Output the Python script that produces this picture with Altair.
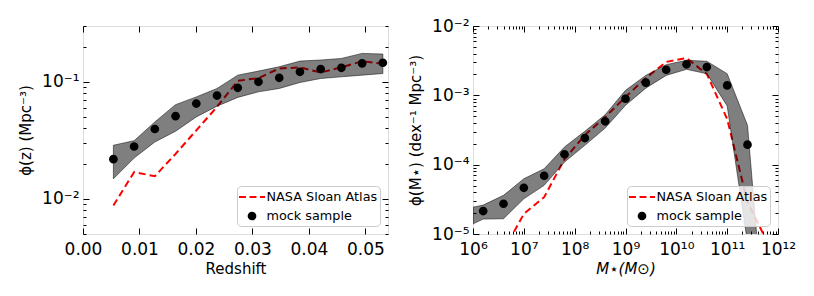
import altair as alt
import pandas as pd

# ---------------- Left panel: redshift distribution ----------------
z_mock = [0.00538, 0.00905, 0.01272, 0.01639, 0.02006, 0.02373, 0.02740,
          0.03107, 0.03474, 0.03841, 0.04208, 0.04575, 0.04942, 0.05309]
phi_z_mock = [0.0218, 0.0280, 0.0395, 0.0508, 0.0652, 0.0763, 0.0888,
              0.1000, 0.1082, 0.1218, 0.1285, 0.1318, 0.1437, 0.1455]
phi_z_hi = [0.0287, 0.0314, 0.0454, 0.0638, 0.0743, 0.0877, 0.1140,
            0.1235, 0.1345, 0.1504, 0.1535, 0.1584, 0.1750, 0.1727]
phi_z_lo = [0.0148, 0.0223, 0.0306, 0.0378, 0.0501, 0.0619, 0.0736,
            0.0821, 0.0877, 0.0987, 0.1067, 0.1104, 0.1140, 0.1178]
phi_z_nsa = [0.00877, 0.0169, 0.0156, 0.0242, 0.0385, 0.0611, 0.1020,
             0.1076, 0.1300, 0.1327, 0.1202, 0.1331, 0.1500, 0.1426]

# ---------------- Right panel: stellar mass function ----------------
logm_mock = [6.2, 6.6, 7.0, 7.4, 7.8, 8.2, 8.6, 9.0, 9.4, 9.8, 10.2, 10.6, 11.0, 11.4]
phi_m_mock = [2.14e-5, 2.73e-5, 4.64e-5, 6.92e-5, 1.41e-4, 2.42e-4, 4.22e-4,
              8.93e-4, 1.52e-3, 2.34e-3, 2.80e-3, 2.56e-3, 1.39e-3, 1.94e-4]
logm_band = [6.0, 6.2, 6.6, 7.0, 7.4, 7.8, 8.2, 8.6, 9.0, 9.4, 9.8, 10.2, 10.6, 11.0, 11.4, 11.8]
phi_m_hi = [2.44e-5, 2.61e-5, 3.61e-5, 6.26e-5, 8.73e-5, 1.80e-4, 3.03e-4, 5.25e-4,
            1.18e-3, 1.94e-3, 2.77e-3, 3.20e-3, 3.10e-3, 2.05e-3, 3.69e-4, 1.2e-7]
phi_m_lo = [1.40e-5, 1.64e-5, 1.66e-5, 3.22e-5, 5.03e-5, 1.09e-4, 1.90e-4, 3.37e-4,
            7.18e-4, 1.27e-3, 1.94e-3, 2.37e-3, 2.05e-3, 7.02e-4, 7.5e-6, 1.0e-8]
logm_nsa = [6.6, 7.0, 7.4, 7.8, 8.2, 8.6, 9.0, 9.4, 9.8, 10.2, 10.6, 11.0, 11.4, 11.8]
phi_m_nsa = [5.7e-6, 1.95e-5, 3.40e-5, 1.20e-4, 2.67e-4, 4.86e-4, 9.44e-4,
             1.78e-3, 3.03e-3, 3.45e-3, 2.03e-3, 4.55e-4, 2.88e-5, 7.4e-6]

series_labels = ["NASA Sloan Atlas", "mock sample"]

# ---------------- styling helpers ----------------
W, H = 305, 208
FONT = "DejaVu Sans"

SUP = "['⁰','¹','²','³','⁴','⁵','⁶','⁷','⁸','⁹','¹⁰','¹¹','¹²']"
EXP = "round(log(datum.value)/LN10)"
LOG_LABEL = f"'10' + ({EXP} < 0 ? '⁻' : '') + {SUP}[abs({EXP})]"
IS_MAJOR = f"abs(log(datum.value)/LN10 - {EXP}) < 0.001"
TICK_SIZE = {"condition": {"test": IS_MAJOR, "value": 6}, "value": 3}

DASH_PATH = ("M-1.53,-0.12L-0.71,-0.12L-0.71,0.12L-1.53,0.12Z "
             "M-0.29,-0.12L0.53,-0.12L0.53,0.12L-0.29,0.12Z "
             "M0.94,-0.12L1.53,-0.12L1.53,0.12L0.94,0.12Z")
CIRCLE_PATH = "M0.512,0A0.512,0.512,0,1,1,-0.512,0A0.512,0.512,0,1,1,0.512,0Z"
SYM_SIZE = 289


def log_ticks(lo_exp, hi_exp):
    return [k * 10.0 ** n for n in range(lo_exp, hi_exp) for k in range(1, 10)] + [10.0 ** hi_exp]


def main_axis(values, title, label_expr=None, fmt=None, is_x=True, title_style="normal"):
    kw = dict(values=values, ticks=False, tickSize=0, domain=False, grid=False,
              labelFlush=False, labelOverlap=False,
              title=title, labelFont=FONT, labelFontSize=17, labelColor="black",
              titleFont=FONT, titleFontSize=15, titleFontWeight="normal",
              titleColor="black", titleFontStyle=title_style)
    if label_expr:
        kw["labelExpr"] = label_expr
    if fmt:
        kw["format"] = fmt
    if is_x:
        kw.update(labelPadding=7, titleY=27)
    else:
        kw.update(labelPadding=4, titleX=-50)
    return alt.Axis(**kw)


def tick_axis(values, orient, offset, size):
    return alt.Axis(values=values, orient=orient, offset=offset, labels=False,
                    domain=False, grid=False, ticks=True, tickColor="black",
                    tickWidth=1, tickSize=size, title=None, zindex=1)


def legend():
    return alt.Legend(title=None, orient="bottom-right", offset=8,
                      labelFont=FONT, labelFontSize=12.8, labelColor="black",
                      symbolSize=SYM_SIZE, symbolStrokeWidth=0, symbolOpacity=1,
                      padding=2.5, rowPadding=3, labelOffset=6, symbolOffset=4,
                      strokeColor="#cccccc", fillColor="rgba(255,255,255,0.8)",
                      cornerRadius=4)


def panel(pts, band, nsa, xf, xs, ys, xaxes, yaxes):
    red = alt.Chart(nsa).mark_line(color="red", strokeWidth=2, strokeDash=[7, 4], clip=True).encode(
        x=alt.X(f"{xf}:Q", scale=xs, axis=xaxes[0]),
        y=alt.Y("phi:Q", scale=ys, axis=yaxes[0]),
    )
    area = alt.Chart(band).mark_area(color="black", fill="black", fillOpacity=0.5,
                                     stroke="black", strokeOpacity=0.5, strokeWidth=1,
                                     clip=True).encode(
        x=alt.X(f"{xf}:Q", scale=xs, axis=xaxes[1]),
        y=alt.Y("hi:Q", scale=ys, axis=yaxes[1]),
        y2="lo:Q",
    )
    dots = alt.Chart(pts).mark_point(filled=True, size=SYM_SIZE, opacity=1,
                                     strokeWidth=0, clip=True).encode(
        x=alt.X(f"{xf}:Q", scale=xs, axis=xaxes[2]),
        y=alt.Y("phi:Q", scale=ys, axis=yaxes[2]),
        color=alt.Color("series:N", scale=alt.Scale(domain=series_labels, range=["red", "black"]),
                        legend=legend()),
        shape=alt.Shape("series:N", scale=alt.Scale(domain=series_labels, range=[DASH_PATH, CIRCLE_PATH]),
                        legend=legend()),
    )
    return alt.layer(red, area, dots).resolve_axis(x="independent", y="independent").properties(
        width=W, height=H)


# ---- left data ----
left_pts = pd.DataFrame({"z": z_mock, "phi": phi_z_mock, "series": "mock sample"})
left_band = pd.DataFrame({"z": z_mock, "lo": phi_z_lo, "hi": phi_z_hi})
left_nsa = pd.DataFrame({"z": z_mock, "phi": phi_z_nsa})

zx_major = [0.0, 0.01, 0.02, 0.03, 0.04, 0.05]
ly_major = [0.01, 0.1]
ly_all = [0.005, 0.006, 0.007, 0.008, 0.009, 0.01, 0.02, 0.03, 0.04, 0.05,
          0.06, 0.07, 0.08, 0.09, 0.1, 0.2, 0.3]

xs_l = alt.Scale(type="linear", domain=[0, 0.054], nice=False, zero=False)
ys_l = alt.Scale(type="log", domain=[0.005, 0.3], nice=False)

left = panel(
    left_pts, left_band, left_nsa, "z", xs_l, ys_l,
    [main_axis(zx_major, "Redshift", fmt=".2f", is_x=True),
     tick_axis(zx_major, "top", -H, 6),
     tick_axis(zx_major, "bottom", -H, 6)],
    [main_axis(ly_major, "ϕ(z) (Mpc⁻³)", label_expr=LOG_LABEL, is_x=False),
     tick_axis(ly_all, "right", -W, TICK_SIZE),
     tick_axis(ly_all, "left", -W, TICK_SIZE)],
)

# ---- right data ----
right_pts = pd.DataFrame({"m": [10 ** v for v in logm_mock], "phi": phi_m_mock, "series": "mock sample"})
right_band = pd.DataFrame({"m": [10 ** v for v in logm_band], "lo": phi_m_lo, "hi": phi_m_hi})
right_nsa = pd.DataFrame({"m": [10 ** v for v in logm_nsa], "phi": phi_m_nsa})

mx_major = [1e6, 1e7, 1e8, 1e9, 1e10, 1e11, 1e12]
mx_all = log_ticks(6, 12)
my_major = [1e-5, 1e-4, 1e-3, 1e-2]
my_all = log_ticks(-5, -2)

xs_r = alt.Scale(type="log", domain=[1e6, 1e12], nice=False)
ys_r = alt.Scale(type="log", domain=[1e-5, 1e-2], nice=False)

right = panel(
    right_pts, right_band, right_nsa, "m", xs_r, ys_r,
    [main_axis(mx_major, "M⋆(M⊙)", label_expr=LOG_LABEL, is_x=True, title_style="italic"),
     tick_axis(mx_all, "top", -H, TICK_SIZE),
     tick_axis(mx_all, "bottom", -H, TICK_SIZE)],
    [main_axis(my_major, "ϕ(M⋆) (dex⁻¹ Mpc⁻³)", label_expr=LOG_LABEL, is_x=False),
     tick_axis(my_all, "right", -W, TICK_SIZE),
     tick_axis(my_all, "left", -W, TICK_SIZE)],
)

chart = alt.hconcat(left, right, spacing=85, bounds="flush").resolve_scale(
    color="independent", shape="independent").resolve_legend(
    color="independent", shape="independent").properties(
    padding={"left": 9, "top": 8, "right": 5, "bottom": 5}
).configure_view(stroke="black", strokeWidth=1.8).configure(background="white")

chart.save("out.html", embed_options={"renderer": "svg", "actions": False})
